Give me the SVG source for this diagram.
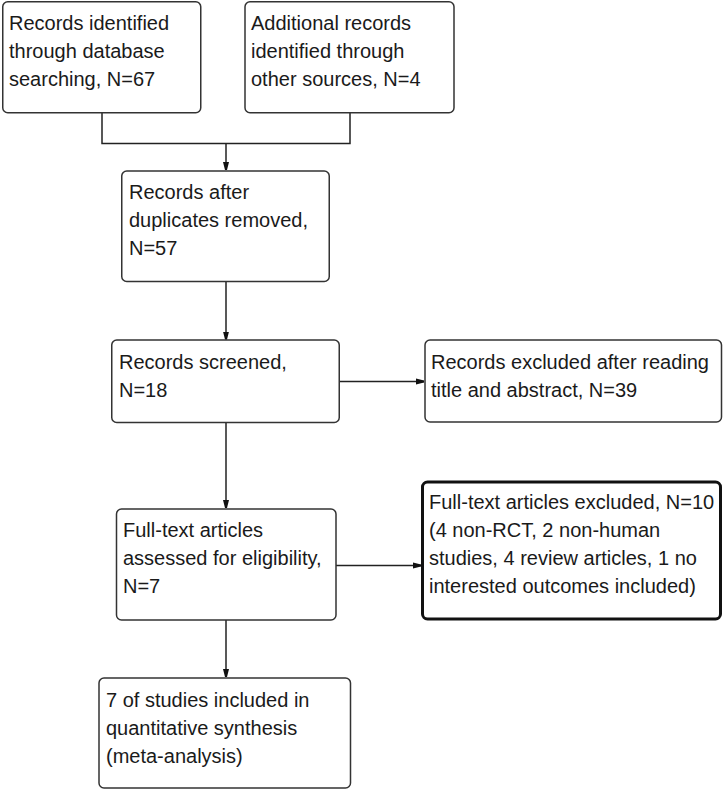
<svg xmlns="http://www.w3.org/2000/svg" width="724" height="791" viewBox="0 0 724 791">
<defs>
<marker id="arr" viewBox="0 0 8 8" refX="8" refY="4" markerWidth="8" markerHeight="8" markerUnits="userSpaceOnUse" orient="auto">
<path d="M0,1 L8,3 L8,5 L0,7 Z" fill="#111"/>
</marker>
<style>
.box{fill:#fff;stroke:#333;stroke-width:1.5}
.bold{fill:#fff;stroke:#111;stroke-width:3}
.t{font-family:"Liberation Sans",Arial,sans-serif;font-size:20px;fill:#1a1a1a}
.c{fill:none;stroke:#222;stroke-width:1.5}
</style>
</defs>
<rect width="724" height="791" fill="#fff"/>
<g id="connectors">
<path class="c" d="M102,112.5 V143.5 H350 V112.5"/>
<path class="c" d="M226,143.5 V170" marker-end="url(#arr)"/>
<path class="c" d="M226,281.5 V339.5" marker-end="url(#arr)"/>
<path class="c" d="M339,381.5 H424" marker-end="url(#arr)"/>
<path class="c" d="M226,422.5 V508" marker-end="url(#arr)"/>
<path class="c" d="M336,565.5 H421" marker-end="url(#arr)"/>
<path class="c" d="M226,620 V677" marker-end="url(#arr)"/>
</g>
<g id="n1">
<rect class="box" x="2.75" y="1.75" width="198" height="111" rx="5"/>
<text class="t" x="9" y="30">Records identified</text>
<text class="t" x="9" y="58">through database</text>
<text class="t" x="9" y="86">searching, N=67</text>
</g>
<g id="n2">
<rect class="box" x="245" y="1.75" width="209" height="111" rx="5"/>
<text class="t" x="251" y="30">Additional records</text>
<text class="t" x="251" y="58">identified through</text>
<text class="t" x="251" y="86">other sources, N=4</text>
</g>
<g id="n3">
<rect class="box" x="121.75" y="171" width="207.5" height="110.5" rx="5"/>
<text class="t" x="129" y="199">Records after</text>
<text class="t" x="129" y="227">duplicates removed,</text>
<text class="t" x="129" y="255">N=57</text>
</g>
<g id="n4">
<rect class="box" x="111.75" y="340" width="227.5" height="82.5" rx="5"/>
<text class="t" x="119" y="369">Records screened,</text>
<text class="t" x="119" y="397">N=18</text>
</g>
<g id="n5">
<rect class="box" x="425" y="340" width="296.5" height="82" rx="5"/>
<text class="t" x="431" y="369">Records excluded after reading</text>
<text class="t" x="431" y="397">title and abstract, N=39</text>
</g>
<g id="n6">
<rect class="box" x="116.5" y="509" width="219.5" height="111" rx="5"/>
<text class="t" x="123" y="537">Full-text articles</text>
<text class="t" x="123" y="565">assessed for eligibility,</text>
<text class="t" x="123" y="593">N=7</text>
</g>
<g id="n7">
<rect class="bold" x="422.5" y="482" width="298" height="137" rx="5"/>
<text class="t" x="429" y="509">Full-text articles excluded, N=10</text>
<text class="t" x="429" y="537">(4 non-RCT, 2 non-human</text>
<text class="t" x="429" y="565">studies, 4 review articles, 1 no</text>
<text class="t" x="429" y="593">interested outcomes included)</text>
</g>
<g id="n8">
<rect class="box" x="99" y="678" width="251.5" height="110" rx="5"/>
<text class="t" x="106" y="707">7 of studies included in</text>
<text class="t" x="106" y="735">quantitative synthesis</text>
<text class="t" x="106" y="763">(meta-analysis)</text>
</g>
</svg>
